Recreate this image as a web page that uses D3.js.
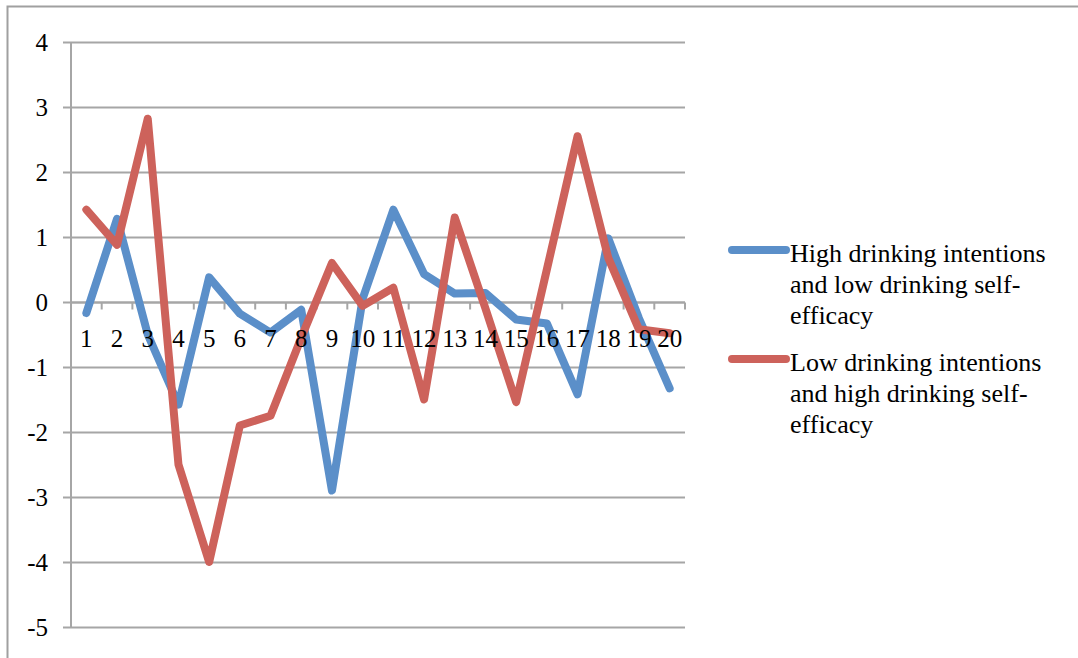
<!DOCTYPE html>
<html>
<head>
<meta charset="utf-8">
<script src="https://cdn.jsdelivr.net/npm/d3@7"></script>
<style>
  html, body { margin: 0; padding: 0; background: #fff; }
  svg { display: block; }
</style>
</head>
<body>
<svg id="chart" width="1078" height="658"></svg>
<script>
// Item numbers along the horizontal axis
const categories = ["1","2","3","4","5","6","7","8","9","10","11","12","13","14","15","16","17","18","19","20"];

// Series values
const highIntentLowEfficacy = [-0.17, 1.28, -0.5, -1.58, 0.38, -0.18, -0.47, -0.12, -2.9, 0.05,
                               1.42, 0.43, 0.13, 0.14, -0.27, -0.33, -1.42, 0.98, -0.25, -1.33];
const lowIntentHighEfficacy = [1.42, 0.88, 2.82, -2.5, -4.0, -1.9, -1.75, -0.55, 0.6, -0.06,
                               0.22, -1.5, 1.3, -0.1, -1.54, 0.5, 2.55, 0.68, -0.42, -0.48];

const seriesColors = ["#5B8FC9", "#CD625B"];
const yTicks = [4, 3, 2, 1, 0, -1, -2, -3, -4, -5];

const svg = d3.select("#chart");
const font = "'Liberation Serif', 'Times New Roman', serif";

// Outer frame
svg.append("rect")
  .attr("x", 7.5).attr("y", 6.5)
  .attr("width", 1080).attr("height", 660)
  .attr("fill", "none").attr("stroke", "#a0a0a0").attr("stroke-width", 2);

const plot = { left: 71, right: 685, top: 42, bottom: 627 };

const x = d3.scaleBand().domain(categories).range([plot.left, plot.right]);
const y = d3.scaleLinear().domain([-5, 4]).range([plot.bottom, plot.top]);

// Horizontal gridlines
svg.append("g").selectAll("line").data(yTicks).join("line")
  .attr("x1", plot.left - 8).attr("x2", plot.right)
  .attr("y1", d => Math.round(y(d)) + 0.5).attr("y2", d => Math.round(y(d)) + 0.5)
  .attr("stroke", "#a6a6a6").attr("stroke-width", 2);

// Vertical axis line
svg.append("line")
  .attr("x1", plot.left).attr("x2", plot.left)
  .attr("y1", plot.top).attr("y2", plot.bottom)
  .attr("stroke", "#a6a6a6").attr("stroke-width", 2);

// Y tick labels
svg.append("g").selectAll("text").data(yTicks).join("text")
  .attr("x", 48).attr("y", d => y(d))
  .attr("dy", "0.35em")
  .attr("text-anchor", "end")
  .attr("font-family", font).attr("font-size", 25)
  .attr("fill", "#000")
  .text(d => d);

// Horizontal axis along zero with tick marks between categories
const zeroY = Math.round(y(0)) + 0.5;
const boundaries = categories.map(c => x(c)).concat([x(categories[categories.length - 1]) + x.bandwidth()]);
svg.append("line")
  .attr("x1", plot.left).attr("x2", plot.right)
  .attr("y1", zeroY).attr("y2", zeroY)
  .attr("stroke", "#a6a6a6").attr("stroke-width", 2);
svg.append("g").selectAll("line").data(boundaries).join("line")
  .attr("x1", d => d).attr("x2", d => d)
  .attr("y1", zeroY).attr("y2", zeroY + 7)
  .attr("stroke", "#a6a6a6").attr("stroke-width", 2);

// Series lines
const line = d3.line()
  .x((d, i) => x(categories[i]) + x.bandwidth() / 2)
  .y(d => y(d));

[highIntentLowEfficacy, lowIntentHighEfficacy].forEach((vals, i) => {
  svg.append("path")
    .datum(vals)
    .attr("d", line)
    .attr("fill", "none")
    .attr("stroke", seriesColors[i])
    .attr("stroke-width", 8)
    .attr("stroke-linejoin", "round")
    .attr("stroke-linecap", "round");
});

// Category labels sit on top of the lines
const xAxis = d3.axisBottom(x).tickSize(0).tickPadding(0);
const gx = svg.append("g").attr("transform", `translate(0,${zeroY})`).call(xAxis);
gx.select(".domain").remove();
gx.selectAll("text")
  .attr("y", 44).attr("dy", "0")
  .attr("font-family", font).attr("font-size", 25)
  .attr("fill", "#000");

// Legend
const legendLines = [
  ["High drinking intentions", "and low drinking self-", "efficacy"],
  ["Low drinking intentions", "and high drinking self-", "efficacy"]
];
const legendTop = [250, 359];
legendLines.forEach((lines, i) => {
  const g = svg.append("g");
  g.append("line")
    .attr("x1", 732).attr("x2", 786)
    .attr("y1", legendTop[i]).attr("y2", legendTop[i])
    .attr("stroke", seriesColors[i]).attr("stroke-width", 8)
    .attr("stroke-linecap", "round");
  g.append("text")
    .attr("font-family", font).attr("font-size", 26)
    .attr("fill", "#000")
    .selectAll("tspan").data(lines).join("tspan")
    .attr("x", 790)
    .attr("y", (d, j) => legendTop[i] + 12 + j * 31)
    .text(d => d);
});
</script>
</body>
</html>
